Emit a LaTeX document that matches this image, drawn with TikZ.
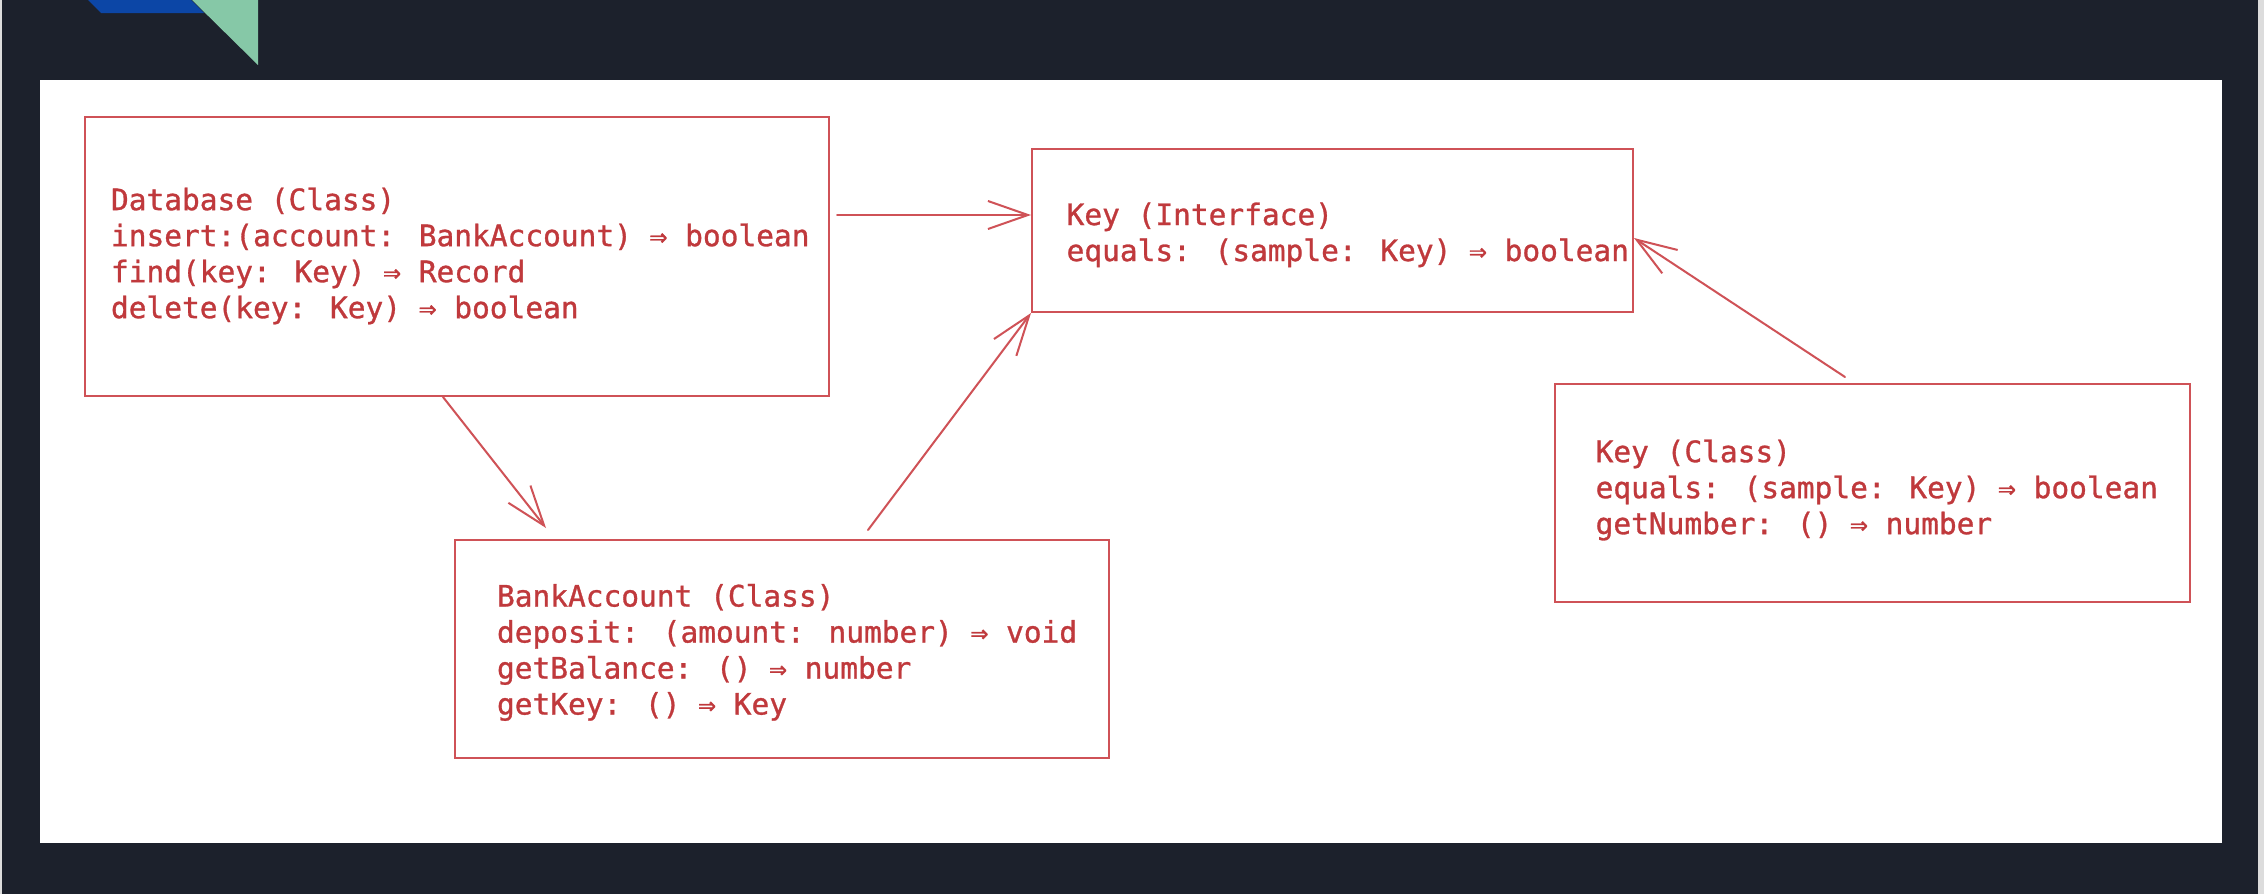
\documentclass[tikz,border=0pt]{standalone}
\usepackage{fontspec}
\newfontfamily\codefont{DejaVu Sans Mono}[FakeBold=1]
\usetikzlibrary{arrows.meta, positioning}
\definecolor{cdark}{HTML}{1C212C}
\definecolor{cedge}{HTML}{DCDCDC}
\definecolor{cred}{HTML}{C0393C}
\definecolor{cline}{HTML}{CF5257}
\definecolor{cblue}{HTML}{0C46A6}
\definecolor{cgreen}{HTML}{86C8A7}
\tikzset{
  every picture/.style={font=\codefont\fontsize{14.75}{18}\selectfont, line width=1pt},
  box/.style={draw=cline, inner sep=0pt},
  code/.style={text=cred, align=flush left, inner sep=0pt},
  arrow/.style={-{Straight Barb[length=20pt, width=14pt]}, draw=cline, line width=1pt, line cap=round},
}
\begin{document}
\begin{tikzpicture}[x=0.5pt, y=-0.5pt]
  % backdrop: dark slide, white panel and the corner logo
  \fill[cdark] (0,0) rectangle (2264,894);
  \fill[cedge] (0,0) rectangle (2,894);
  \fill[cedge] (2258,0) rectangle (2264,894);
  \fill[white] (40,80) rectangle (2222,843);
  \fill[cblue] (88,0) -- (191,0) -- (204,13) -- (101,13) -- cycle;
  \fill[cgreen] (192,0) -- (258,0) -- (258,65) -- cycle;

  % the four types
  \node[box, minimum width=372pt, minimum height=139.5pt] (db) at (457,256.5) {};
  \node[code, right=13pt of db.west, yshift=0.3pt] (dbtxt)
    {Database (Class)\\insert:(account: BankAccount) ⇒ boolean\\find(key: Key) ⇒ Record\\delete(key: Key) ⇒ boolean};
  \node[box, minimum width=300.5pt, minimum height=81.5pt] (keyi) at (1332.5,230.5) {};
  \node[code, right=17.3pt of keyi.west, yshift=-2.2pt] (keyitxt)
    {Key (Interface)\\equals: (sample: Key) ⇒ boolean};
  \node[box, minimum width=327pt, minimum height=109pt] (bank) at (782,649) {};
  \node[code, right=21pt of bank.west, yshift=-1.7pt] (banktxt)
    {BankAccount (Class)\\deposit: (amount: number) ⇒ void\\getBalance: () ⇒ number\\getKey: () ⇒ Key};
  \node[box, minimum width=317.5pt, minimum height=109pt] (keyc) at (1872.5,493) {};
  \node[code, right=20.3pt of keyc.west, yshift=1.5pt] (keyctxt)
    {Key (Class)\\equals: (sample: Key) ⇒ boolean\\getNumber: () ⇒ number};

  % relations
  \draw[arrow] ([xshift=3.5pt, yshift=20.75pt]db.east) -- ([yshift=7.75pt]keyi.west);
  \draw[arrow] ([xshift=-7pt]db.south) -- ([xshift=-118pt, yshift=5.5pt]bank.north);
  \draw[arrow] ([xshift=43pt, yshift=4.5pt]bank.north) -- (keyi.south west);
  \draw[arrow] ([xshift=-13.75pt, yshift=3pt]keyc.north) -- ([yshift=-3.75pt]keyi.east);
\end{tikzpicture}
\end{document}
